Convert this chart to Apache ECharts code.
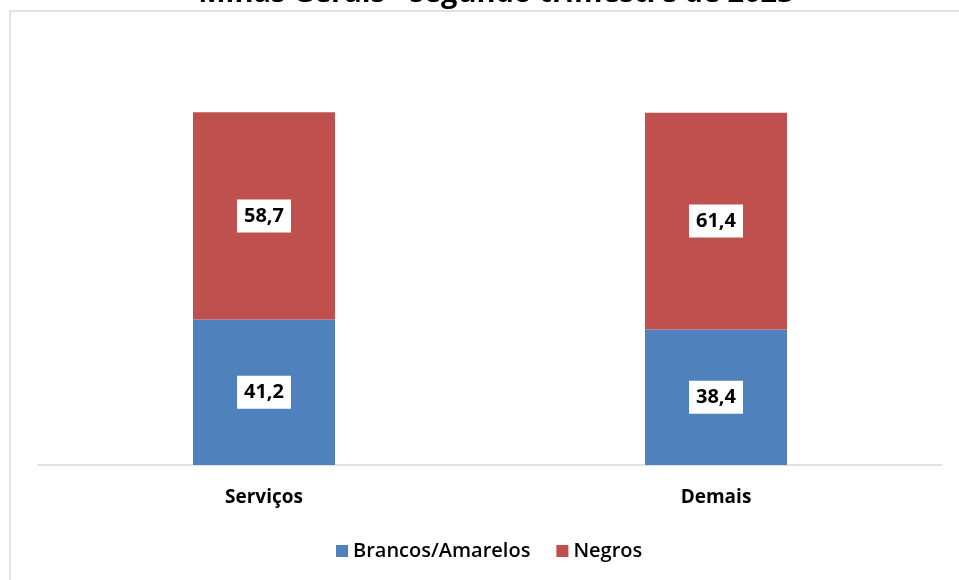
<!DOCTYPE html>
<html>
<head>
<meta charset="utf-8">
<script src="https://cdn.jsdelivr.net/npm/echarts@6/dist/echarts.min.js"></script>
<style>
  html, body { margin: 0; padding: 0; background: #fff; }
  #chart { width: 959px; height: 580px; }
</style>
</head>
<body>
<div id="chart"></div>
<script>
// dados
var categories = ["Serviços", "Demais"];
var brancos = [41.2, 38.4];
var negros = [58.7, 61.4];
var seriesNames = ["Brancos/Amarelos", "Negros"];

var font = "Open Sans";
var chart = echarts.init(document.getElementById("chart"));

var labelStyle = {
  show: true,
  position: "inside",
  backgroundColor: "#fff",
  color: "#000",
  fontFamily: font,
  fontWeight: "bold",
  fontSize: 20,
  padding: [7, 7, 6, 7],
  formatter: function (p) {
    return String(p.value).replace(".", ",");
  }
};

var option = {
  backgroundColor: "#fff",
  animation: false,
  title: {
    text: "Minas Gerais - segundo trimestre de 2023",
    left: 491,
    textAlign: "center",
    top: -26,
    textStyle: { fontFamily: font, fontWeight: "bold", fontSize: 29, color: "#000" }
  },
  graphic: [
    {
      type: "rect",
      shape: { x: 10, y: 11, width: 970, height: 600 },
      style: { fill: "none", stroke: "#d9d9d9", lineWidth: 1.5 },
      silent: true
    }
  ],
  legend: {
    bottom: 14,
    left: 331,
    itemWidth: 12,
    itemHeight: 12,
    itemGap: 26,
    icon: "rect",
    textStyle: { fontFamily: font, fontWeight: 600, fontSize: 20, color: "#000" },
    data: seriesNames
  },
  grid: { left: 38, right: 17, top: 112, bottom: 115 },
  xAxis: {
    type: "category",
    data: categories,
    axisTick: { show: false },
    axisLine: { lineStyle: { color: "#d9d9d9", width: 1.5 } },
    axisLabel: {
      margin: 23,
      fontFamily: font,
      fontWeight: "bold",
      fontSize: 19,
      color: "#000"
    }
  },
  yAxis: {
    type: "value",
    min: 0,
    max: 100,
    show: false,
    splitLine: { show: false }
  },
  series: [
    {
      name: seriesNames[0],
      type: "bar",
      stack: "total",
      barWidth: 142,
      data: brancos,
      itemStyle: { color: "#4f81bd" },
      label: labelStyle
    },
    {
      name: seriesNames[1],
      type: "bar",
      stack: "total",
      barWidth: 142,
      data: negros,
      itemStyle: { color: "#c0504d" },
      label: labelStyle
    }
  ]
};

chart.setOption(option);
</script>
</body>
</html>
